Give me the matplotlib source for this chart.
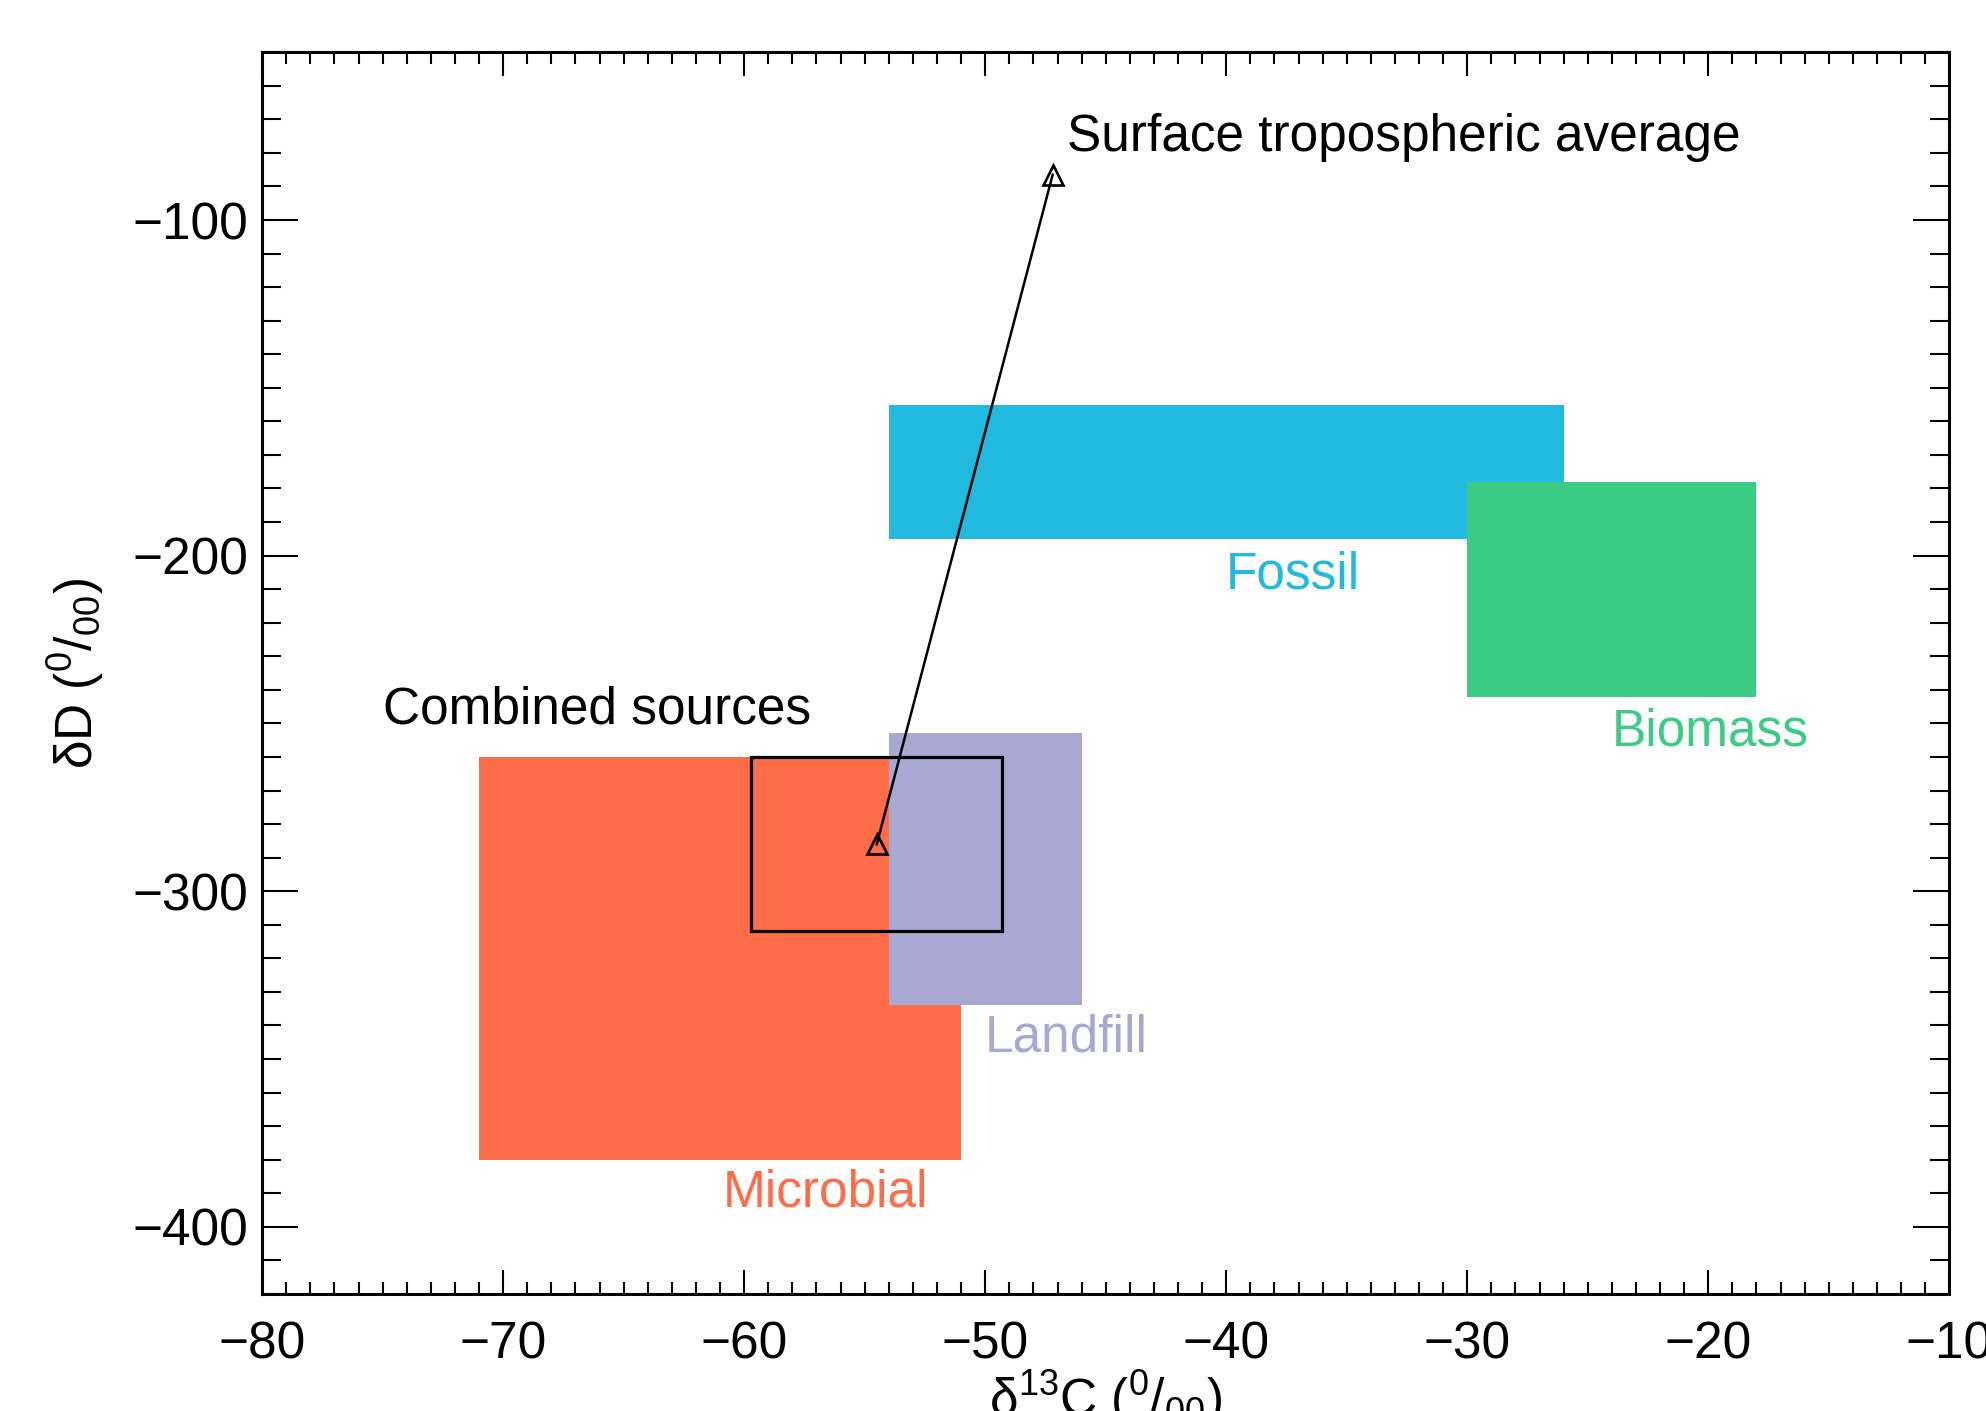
import matplotlib
matplotlib.use("Agg")
import matplotlib.pyplot as plt
from matplotlib.patches import Rectangle
from matplotlib.ticker import MultipleLocator

plt.rcParams['font.family'] = ['Liberation Sans', 'DejaVu Sans']
plt.rcParams['mathtext.fontset'] = 'custom'
plt.rcParams['mathtext.rm'] = 'Liberation Sans'
plt.rcParams['mathtext.it'] = 'Liberation Sans:italic'

# Source signature boxes
source_names = ['Fossil', 'Biomass', 'Microbial', 'Landfill']
source_x0 = [-54, -30, -71, -54]
source_x1 = [-26, -18, -51, -46]
source_y0 = [-195, -242, -380, -334]
source_y1 = [-155, -178, -260, -253]
source_colors = ['#21B9DD', '#3BCB84', '#FF6C48', '#A8A8D2']
# label anchor (left, baseline) in data coords
label_x = [-40.0, -24.0, -60.9, -50.0]
label_y = [-209.8, -256.6, -394.1, -347.8]

# Combined sources: mean and half-range
combined_x = -54.5
combined_y = -286
combined_dx = 5.2
combined_dy = 26

# Surface tropospheric average
surface_x = -47.2
surface_y = -86.5

FS = 37

fig = plt.figure(figsize=(19.86, 14.11), dpi=100)
ax = fig.add_axes([0.132, 0.083, 0.8495, 0.880])

for name, x0, x1, y0, y1, c in zip(source_names, source_x0, source_x1,
                                   source_y0, source_y1, source_colors):
    ax.add_patch(Rectangle((x0, y0), x1 - x0, y1 - y0, facecolor=c,
                           edgecolor='none', zorder=2))

for name, lx, ly, c in zip(source_names, label_x, label_y, source_colors):
    ax.text(lx, ly, name, color=c, fontsize=FS, ha='left', va='baseline', zorder=5)

ax.add_patch(Rectangle((combined_x - combined_dx, combined_y - combined_dy),
                       2 * combined_dx, 2 * combined_dy, facecolor='none',
                       edgecolor='black', linewidth=2.3, zorder=3))

ax.plot([combined_x, surface_x], [combined_y, surface_y], color='black',
        linewidth=1.8, zorder=4)
ax.plot([combined_x, surface_x], [combined_y, surface_y], linestyle='none',
        marker='^', markersize=14, markerfacecolor='none',
        markeredgecolor='black', markeredgewidth=1.9, zorder=4)

ax.text(-75.0, -249.9, 'Combined sources', fontsize=FS, ha='left',
        va='baseline', color='black', zorder=5)
ax.text(-46.6, -79.3, 'Surface tropospheric average', fontsize=FS,
        ha='left', va='baseline', color='black', zorder=5)

ax.set_xlim(-80, -10)
ax.set_ylim(-420, -50)
ax.xaxis.set_major_locator(MultipleLocator(10))
ax.xaxis.set_minor_locator(MultipleLocator(1))
ax.yaxis.set_major_locator(MultipleLocator(100))
ax.yaxis.set_minor_locator(MultipleLocator(10))

ax.tick_params(axis='both', which='both', direction='in', top=True,
               right=True, labelsize=FS, width=1.5, color='black')
ax.tick_params(axis='x', which='major', length=17, pad=19)
ax.tick_params(axis='x', which='minor', length=8.6)
ax.tick_params(axis='y', which='major', length=26, pad=10)
ax.tick_params(axis='y', which='minor', length=13.7)
for s in ax.spines.values():
    s.set_linewidth(2.2)

ax.set_xlabel(r'δ$^{13}$C ($^{0}$/$_{00}$)', fontsize=FS, labelpad=-1)
ax.set_ylabel(r'δD ($^{0}$/$_{00}$)', fontsize=FS, labelpad=19)

fig.savefig('out.png', dpi=100)
